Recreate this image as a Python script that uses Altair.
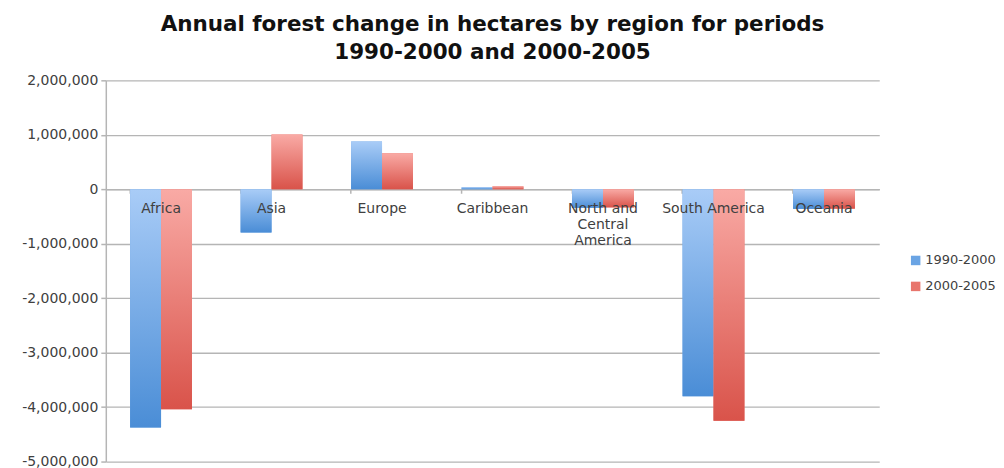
import altair as alt
import pandas as pd

regions = ["Africa", "Asia", "Europe", "Caribbean", "North and Central America", "South America", "Oceania"]
label_text = ["Africa", "Asia", "Europe", "Caribbean", "North and\nCentral\nAmerica", "South America", "Oceania"]
periods = ["1990-2000", "2000-2005"]
change_1990_2000 = [-4375000, -792000, 877000, 36000, -340000, -3802000, -360000]
change_2000_2005 = [-4040000, 1003000, 661000, 54000, -333000, -4251000, -356000]
y_ticks = [-5000000, -4000000, -3000000, -2000000, -1000000, 0, 1000000, 2000000]

rows = []
for r, a, b in zip(regions, change_1990_2000, change_2000_2005):
    rows.append({"region": r, "period": periods[0], "value": a})
    rows.append({"region": r, "period": periods[1], "value": b})
df = pd.DataFrame(rows)
labels = pd.DataFrame({"region": regions, "label": label_text, "value": [0] * len(regions)})

FONT = "DejaVu Sans"
W, H = 775, 382
zero_from_bottom = H * 5 / 7

blue_grad = {"gradient": "linear", "x1": 0, "y1": 0, "x2": 0, "y2": 1,
             "stops": [{"offset": 0, "color": "#a9ccf7"}, {"offset": 1, "color": "#4a8dd6"}]}
red_grad = {"gradient": "linear", "x1": 0, "y1": 0, "x2": 0, "y2": 1,
            "stops": [{"offset": 0, "color": "#f9aaa5"}, {"offset": 1, "color": "#d9534a"}]}

x_axis = alt.Axis(title=None, labels=False, orient="bottom", offset=-zero_from_bottom,
                  domainColor="#b5b5b5", domainWidth=1.5, tickColor="#b5b5b5",
                  tickWidth=1.5, tickSize=4, bandPosition=0, grid=False)
x_scale = alt.Scale(paddingInner=0.44, paddingOuter=0.22)
y_axis = alt.Axis(title=None, values=y_ticks, format=",.0f",
                  labelExpr="replace(datum.label, '\u2212', '-')",
                  labelFontSize=14, labelColor="#404040", labelFont=FONT, labelPadding=3,
                  tickSize=5, tickColor="#b5b5b5", tickWidth=1.5,
                  domainColor="#b5b5b5", domainWidth=1.5,
                  gridColor="#b5b5b5", gridWidth=1.3)
y_scale = alt.Scale(domain=[-5000000, 2000000], nice=False)


def xe():
    return alt.X("region:N", sort=regions, scale=x_scale, axis=x_axis)


def ye():
    return alt.Y("value:Q", scale=y_scale, axis=y_axis)


xo = alt.XOffset("period:N", sort=periods, scale=alt.Scale(domain=periods))

base = alt.Chart(df)
solid = base.mark_bar().encode(
    x=xe(), y=ye(), xOffset=xo,
    color=alt.Color("period:N", scale=alt.Scale(domain=periods, range=["#6aa4e4", "#e8756c"]),
                    legend=alt.Legend(title=None, orient="none", legendX=805, legendY=174,
                                      symbolType="square", symbolSize=90, symbolStrokeWidth=0,
                                      labelFontSize=13, labelFont=FONT, labelOffset=3,
                                      labelColor="#404040", rowPadding=12)),
)
blue = base.transform_filter(alt.datum.period == periods[0]).mark_bar(fill=blue_grad).encode(
    x=xe(), y=ye(), xOffset=xo)
red = base.transform_filter(alt.datum.period == periods[1]).mark_bar(fill=red_grad).encode(
    x=xe(), y=ye(), xOffset=xo)
text = alt.Chart(labels).mark_text(baseline="top", dy=13, fontSize=14, font=FONT,
                                   color="#404040", lineBreak="\n", lineHeight=16).encode(
    x=xe(), y=ye(), text="label:N")

chart = alt.layer(solid, blue, red, text).properties(
    width=W, height=H,
    padding={"left": 13, "top": 5, "right": 0, "bottom": 5},
    title=alt.TitleParams(["Annual forest change in hectares by region for periods",
                           "1990-2000 and 2000-2005"],
                          fontSize=21.5, font=FONT, fontWeight="bold", color="#111111",
                          lineHeight=28, offset=10, anchor="middle"),
).configure_view(stroke=None)

chart.save("out.html", embed_options={"renderer": "svg", "actions": False})
